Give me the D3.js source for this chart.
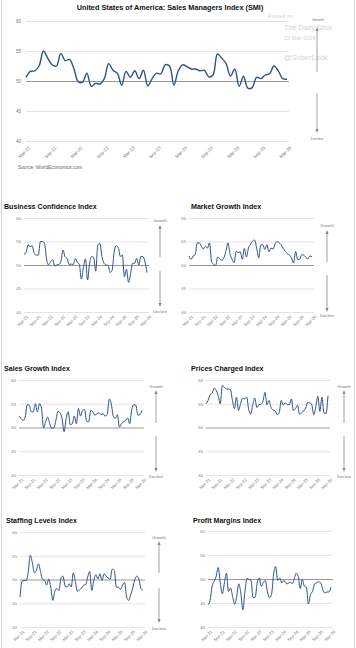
<!DOCTYPE html>
<html>
<head>
<meta charset="utf-8">
<script src="https://cdn.jsdelivr.net/npm/d3@7"></script>
<style>
  html, body { margin: 0; padding: 0; background: #fff; }
  svg { display: block; font-family: "Liberation Sans", Arial, sans-serif; }
</style>
</head>
<body>
<svg id="chart" width="356" height="648"></svg>
<script>
// ---------------- DATA ----------------
const tickLabels = ["Mar-21","Sep-21","Mar-22","Sep-22","Mar-23","Sep-23","Mar-24","Sep-24","Mar-25","Sep-25","Mar-26"];
const yTicks = [40, 45, 50, 55, 60];

const smi = [50.6,51.6,51.7,52.5,55.0,53.8,52.7,52.5,54.6,53.4,53.6,52.1,49.9,49.8,51.3,49.1,49.6,49.5,50.4,52.9,
             51.8,51.3,49.3,51.6,50.6,51.7,50.4,51.8,49.2,50.4,51.3,51.2,52.7,52.5,49.3,51.7,52.7,52.4,52.0,52.0,
             51.7,51.8,50.7,51.0,54.5,53.8,52.9,50.8,52.0,49.1,50.8,48.8,48.9,50.6,50.4,51.0,51.2,52.5,51.7,50.4,50.3];

const businessConfidence = [52.3,52.6,54.3,53.9,54.1,52.5,52.1,52.1,55.0,55.0,54.6,51.3,50.0,50.7,51.1,49.8,50.0,50.1,50.7,53.2,
             51.8,51.4,50.1,50.2,50.1,51.4,50.6,50.1,47.0,49.5,51.3,46.8,50.4,51.8,51.6,48.7,54.3,54.6,51.8,50.4,
             50.0,49.9,48.4,48.9,52.9,54.1,53.7,51.8,52.1,47.5,49.1,46.3,48.2,50.4,50.4,51.4,50.0,51.8,51.8,50.7,48.4];

const marketGrowth = [51.9,51.2,51.9,52.2,54.7,54.7,54.0,53.4,54.0,53.6,54.7,50.8,50.1,49.9,51.7,51.3,51.0,51.5,52.9,54.7,
             52.4,51.2,50.5,52.9,52.6,52.8,51.2,53.5,51.7,53.6,54.4,55.1,55.3,53.6,51.5,54.3,54.3,53.3,54.3,52.8,
             53.6,53.4,54.5,55.0,54.7,54.3,53.5,52.9,52.4,52.1,51.5,50.4,52.9,51.2,51.2,52.2,52.1,51.6,51.3,51.9,51.8];

const salesGrowth = [52.4,51.9,51.5,52.2,54.8,54.7,53.3,53.3,55.0,53.3,55.0,54.0,49.9,51.2,52.2,50.8,49.8,49.9,51.5,53.4,
             53.1,51.9,49.1,51.9,53.3,50.6,50.8,52.4,50.8,54.0,52.4,53.6,53.8,51.3,51.2,53.6,53.3,52.6,52.9,53.1,
             52.7,52.9,52.4,52.7,56.0,55.0,52.4,51.9,52.7,50.1,50.8,51.2,51.5,52.0,50.8,53.8,54.8,54.7,52.6,52.7,53.6];

const pricesCharged = [55.0,55.7,56.9,57.2,58.3,57.8,56.7,55.0,58.8,58.5,58.1,58.1,58.0,55.7,54.0,56.4,53.6,55.0,56.2,56.0,
             56.4,53.8,52.8,54.8,56.2,54.2,54.8,54.9,55.5,57.4,54.8,55.7,54.2,53.7,53.5,52.7,53.1,55.7,54.7,55.2,
             54.8,54.8,56.0,53.6,54.0,54.7,52.8,53.1,53.5,54.1,55.3,55.2,54.8,52.7,54.3,56.6,53.4,56.4,53.1,52.9,56.7];

const staffingLevels = [46.3,49.6,49.8,49.8,51.5,55.1,53.6,51.4,51.9,53.3,51.7,50.0,49.8,48.8,50.1,48.4,45.6,47.5,48.1,47.7,
             50.3,50.7,48.6,48.4,49.1,48.4,51.4,49.6,47.5,47.8,48.2,48.8,48.9,50.5,51.7,47.7,49.8,51.0,50.1,51.2,
             49.8,51.2,50.7,50.3,50.1,52.2,51.9,48.4,48.4,47.9,48.8,49.4,46.3,45.6,46.8,48.2,50.0,50.7,50.1,48.1,47.7];

const profitMargins = [44.6,45.5,48.5,49.5,50.6,52.4,49.2,46.9,49.2,51.2,47.4,48.1,46.4,44.7,46.4,49.0,47.1,43.6,47.3,50.1,
             49.9,49.7,46.1,46.2,49.2,50.2,48.5,49.3,49.7,47.3,46.1,46.8,51.0,52.6,49.7,50.2,49.2,49.7,49.2,49.0,
             49.4,49.0,49.9,51.2,50.6,48.0,49.9,48.5,48.3,44.8,46.8,47.4,49.0,49.2,49.4,49.2,47.8,47.1,47.3,47.3,48.3];

// ---------------- DRAWING ----------------
const svg = d3.select("#chart");
const lineColor = "#2f5189";
const gridColor = "#e4e4e4";
const midColor = "#8c8c8c";
const textGray = "#777";

// frame lines
svg.append("line").attr("x1", 1.5).attr("x2", 1.5).attr("y1", 0).attr("y2", 648).attr("stroke", "#d8d8d8").attr("stroke-width", 1);
svg.append("line").attr("x1", 354.5).attr("x2", 354.5).attr("y1", 0).attr("y2", 648).attr("stroke", "#d8d8d8").attr("stroke-width", 1);

const defs = svg.append("defs");
defs.append("marker").attr("id", "ah").attr("viewBox", "0 0 10 10").attr("refX", 5).attr("refY", 5)
  .attr("markerWidth", 4).attr("markerHeight", 4).attr("markerUnits", "userSpaceOnUse").attr("orient", "auto")
  .append("path").attr("d", "M0,1 L10,5 L0,9 Z").attr("fill", "#8a8a8a");

function drawPanel(cfg) {
  const g = svg.append("g");
  const x = d3.scaleLinear().domain([0, cfg.values.length - 1]).range([cfg.x0, cfg.x1]);
  const y = d3.scaleLinear().domain([40, 60]).range([cfg.y40, cfg.y60]);

  // title
  g.append("text").attr("x", cfg.titleX).attr("y", cfg.titleY)
    .attr("text-anchor", cfg.titleAnchor || "start")
    .attr("font-size", cfg.titleSize).attr("font-weight", "bold").attr("fill", "#111")
    .text(cfg.title);

  // gridlines
  g.selectAll(".grid").data(yTicks).enter().append("line")
    .attr("x1", cfg.x0).attr("x2", cfg.x1 + 2)
    .attr("y1", d => y(d) + 0.5).attr("y2", d => y(d) + 0.5)
    .attr("stroke", d => d === 50 ? midColor : gridColor)
    .attr("stroke-width", d => d === 50 ? 0.9 : 1);

  // y labels
  const yAxis = d3.axisLeft(y).tickValues(yTicks).tickSize(0).tickPadding(cfg.yPad);
  const ya = g.append("g").attr("transform", `translate(${cfg.x0},0)`).call(yAxis);
  ya.select(".domain").remove();
  ya.selectAll("text").attr("font-size", cfg.tickSize).attr("fill", textGray).attr("font-family", "Liberation Sans, Arial, sans-serif");

  // x labels
  const xTickVals = d3.range(0, cfg.values.length, 6);
  const xAxis = d3.axisBottom(x).tickValues(xTickVals).tickSize(0).tickFormat((d, i) => tickLabels[i]);
  const xa = g.append("g").attr("transform", `translate(0,${cfg.y40})`).call(xAxis);
  xa.select(".domain").remove();
  xa.selectAll("text")
    .attr("font-size", cfg.tickSize).attr("fill", textGray).attr("font-family", "Liberation Sans, Arial, sans-serif")
    .attr("text-anchor", "end").attr("x", 0).attr("y", 0).attr("dy", "0.35em")
    .attr("transform", `translate(${cfg.lblDx},${cfg.lblDy}) rotate(-45)`);

  // series line
  const line = d3.line().x((d, i) => x(i)).y(d => y(d)).curve(cfg.curve || d3.curveMonotoneX);
  g.append("path").datum(cfg.values).attr("d", line)
    .attr("fill", "none").attr("stroke", lineColor).attr("stroke-width", cfg.lw).attr("stroke-linejoin", "round");

  // arrows
  if (cfg.arrow) {
    const a = cfg.arrow;
    g.append("line").attr("x1", a.x).attr("x2", a.x).attr("y1", a.upFrom).attr("y2", a.upTo)
      .attr("stroke", "#8a8a8a").attr("stroke-width", 0.8).attr("marker-end", "url(#ah)");
    g.append("line").attr("x1", a.x).attr("x2", a.x).attr("y1", a.downFrom).attr("y2", a.downTo)
      .attr("stroke", "#8a8a8a").attr("stroke-width", 0.8).attr("marker-end", "url(#ah)");
    g.append("text").attr("x", a.x + (a.gdx || 0)).attr("y", a.growthY).attr("text-anchor", "middle")
      .attr("font-size", a.fs).attr("fill", textGray).text("Growth");
    g.append("text").attr("x", a.x + (a.ddx || 0)).attr("y", a.declineY).attr("text-anchor", "middle")
      .attr("font-size", a.fs).attr("fill", textGray).text("Decline");
  }
}

// watermark (drawn first so the Growth label sits over it)
const wm = svg.append("g").attr("fill", "#d4d4d4");
wm.append("text").attr("x", 268).attr("y", 18).attr("font-size", 5.5).text("Posted on");
wm.append("text").attr("x", 284).attr("y", 29.5).attr("font-size", 7.3).text("The Daily Shot");
wm.append("text").attr("x", 284).attr("y", 40).attr("font-size", 5.5).text("23-Mar-2026");
wm.append("text").attr("x", 284).attr("y", 59.5).attr("font-size", 7.5).text("@SoberLook");

// Main chart
drawPanel({
  title: "United States of America: Sales Managers Index (SMI)", titleX: 170, titleY: 9.5, titleAnchor: "middle", titleSize: 7.3,
  values: smi, x0: 26, x1: 287, y40: 141, y60: 21, tickSize: 4.6, yPad: 5, lblDx: 3, lblDy: 6, lw: 1.4,
  curve: d3.curveCatmullRom.alpha(0.5),
  arrow: { x: 317, upFrom: 72, upTo: 29, downFrom: 93, downTo: 131, growthY: 21.3, declineY: 139.5, fs: 3.8, gdx: 1 }
});

svg.append("text").attr("x", 18).attr("y", 168.5).attr("font-size", 4.8).attr("fill", "#666")
  .text("Source: WorldEconomics.com");

// Small panels
const smallCommon = { titleSize: 7.1, tickSize: 4.2, yPad: 3, lblDx: 3, lblDy: 4, lw: 1.0 };

drawPanel(Object.assign({}, smallCommon, {
  title: "Business Confidence Index", titleX: 4, titleY: 209,
  values: businessConfidence, x0: 24, x1: 147, y40: 312, y60: 218,
  arrow: { x: 160, upFrom: 257, upTo: 227, downFrom: 271, downTo: 305, growthY: 221.5, declineY: 312.5, fs: 4.2 }
}));

drawPanel(Object.assign({}, smallCommon, {
  title: "Market Growth Index", titleX: 191, titleY: 209,
  values: marketGrowth, x0: 189, x1: 312, y40: 312, y60: 218,
  arrow: { x: 327, upFrom: 262, upTo: 232, downFrom: 275, downTo: 310, growthY: 226.5, declineY: 316.5, fs: 4.2 }
}));

drawPanel(Object.assign({}, smallCommon, {
  title: "Sales Growth Index", titleX: 4, titleY: 371,
  values: salesGrowth, x0: 19, x1: 142, y40: 475, y60: 380,
  arrow: { x: 156, upFrom: 423, upTo: 392, downFrom: 436, downTo: 470, growthY: 387.5, declineY: 477.5, fs: 4.2 }
}));

drawPanel(Object.assign({}, smallCommon, {
  title: "Prices Charged Index", titleX: 191, titleY: 371,
  values: pricesCharged, x0: 206, x1: 328, y40: 475, y60: 380,
  arrow: { x: 344, upFrom: 423, upTo: 392, downFrom: 436, downTo: 470, growthY: 387.5, declineY: 478, fs: 4.2 }
}));

drawPanel(Object.assign({}, smallCommon, {
  title: "Staffing Levels Index", titleX: 6, titleY: 523,
  values: staffingLevels, x0: 20, x1: 143, y40: 627, y60: 532,
  arrow: { x: 159, upFrom: 573, upTo: 543, downFrom: 588, downTo: 621, growthY: 538.5, declineY: 629.5, fs: 4.2 }
}));

drawPanel(Object.assign({}, smallCommon, {
  title: "Profit Margins Index", titleX: 193, titleY: 523,
  values: profitMargins, x0: 208, x1: 331, y40: 627, y60: 531
}));
</script>
</body>
</html>
